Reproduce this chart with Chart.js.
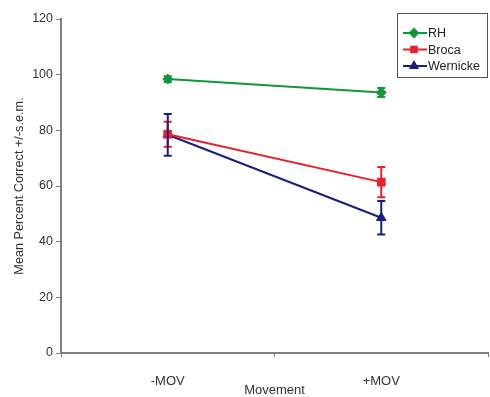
<!DOCTYPE html>
<html>
<head>
<meta charset="utf-8">
<script src="https://cdn.jsdelivr.net/npm/chart.js@4"></script>
<style>
  html, body { margin: 0; padding: 0; background: #fff; }
  #wrap { width: 490px; height: 397px; }
</style>
</head>
<body>
<div id="wrap"><canvas id="myChart" width="490" height="397"></canvas></div>
<script>
// values
const categories = ['-MOV', '+MOV'];
const seriesNames = ['RH', 'Broca', 'Wernicke'];
const rhValues = [98.4, 93.6];
const rhErrors = [1.0, 1.6];
const brocaValues = [78.6, 61.4];
const brocaErrors = [4.5, 5.4];
const wernickeValues = [78.4, 48.6];
const wernickeErrors = [7.5, 6.0];
const yTicks = [0, 20, 40, 60, 80, 100, 120];

const colors = ['#13963a', '#e5222b', '#1c1c82'];
const markers = ['rectRot', 'rect', 'triangle'];
const markerSizes = [5, 5.5, 5.5];
const errors = [rhErrors, brocaErrors, wernickeErrors];
const FONT = '"Liberation Sans", Arial, sans-serif';

const errorBars = {
  id: 'errorBars',
  afterDatasetsDraw(chart) {
    const ctx = chart.ctx;
    const y = chart.scales.y;
    chart.data.datasets.forEach((ds, i) => {
      const meta = chart.getDatasetMeta(i);
      ctx.save();
      ctx.strokeStyle = colors[i];
      ctx.lineWidth = 2;
      meta.data.forEach((pt, j) => {
        const e = errors[i][j];
        const top = y.getPixelForValue(ds.data[j] + e);
        const bot = y.getPixelForValue(ds.data[j] - e);
        ctx.beginPath();
        ctx.moveTo(pt.x, top); ctx.lineTo(pt.x, bot);
        ctx.moveTo(pt.x - 4, top); ctx.lineTo(pt.x + 4, top);
        ctx.moveTo(pt.x - 4, bot); ctx.lineTo(pt.x + 4, bot);
        ctx.stroke();
      });
      ctx.restore();
    });
  }
};

const boxLegend = {
  id: 'boxLegend',
  afterDraw(chart) {
    const ctx = chart.ctx;
    const right = chart.chartArea.right;
    const left = right - 91, top = 13, h = 64;
    ctx.save();
    ctx.fillStyle = '#fff';
    ctx.fillRect(left, top, 91, h);
    ctx.strokeStyle = '#555';
    ctx.lineWidth = 1;
    ctx.strokeRect(left + 0.5, top + 0.5, 90, h);
    ctx.font = '12.5px ' + FONT;
    ctx.textBaseline = 'middle';
    chart.data.datasets.forEach((ds, i) => {
      const yy = top + 20 + i * 16.5;
      ctx.strokeStyle = colors[i];
      ctx.lineWidth = 2;
      ctx.beginPath();
      ctx.moveTo(left + 6, yy); ctx.lineTo(left + 30, yy);
      ctx.stroke();
      ctx.fillStyle = colors[i];
      Chart.helpers.drawPoint(ctx, {pointStyle: markers[i], radius: 4, rotation: 0, borderWidth: 1}, left + 17, yy);
      ctx.fill();
      ctx.fillStyle = '#222';
      ctx.fillText(ds.label, left + 31, yy + 1);
    });
    ctx.restore();
  }
};

const ctx = document.getElementById('myChart').getContext('2d');
const seriesValues = [rhValues, brocaValues, wernickeValues];

new Chart(ctx, {
  type: 'line',
  data: {
    labels: categories,
    datasets: seriesNames.map((name, i) => ({
      label: name,
      data: seriesValues[i],
      borderColor: colors[i],
      backgroundColor: colors[i],
      borderWidth: 2,
      pointStyle: markers[i],
      pointRadius: markerSizes[i],
      pointBorderWidth: 1,
      tension: 0
    }))
  },
  options: {
    responsive: false,
    animation: false,
    layout: { autoPadding: false, padding: { top: 19, right: 2, left: 0, bottom: 0 } },
    plugins: { legend: { display: false }, tooltip: { enabled: false } },
    scales: {
      x: {
        offset: true,
        afterFit(scale) { scale.height = 44; scale.paddingRight = 0; scale.paddingLeft = 0; },
        grid: { display: true, drawOnChartArea: false, offset: true, tickLength: 4, color: '#808080' },
        border: { color: '#808080', width: 2 },
        ticks: { color: '#333', padding: 17, font: { family: FONT, size: 13 } },
        title: { display: true, text: 'Movement', color: '#333', padding: { top: -2, bottom: 0 }, font: { family: FONT, size: 13, lineHeight: 1 } }
      },
      y: {
        min: 0,
        max: 120,
        afterFit(scale) { scale.width = 61; },
        afterBuildTicks(scale) { scale.ticks = yTicks.map(v => ({ value: v })); },
        grid: { display: true, drawOnChartArea: false, tickLength: 5, color: '#808080' },
        border: { color: '#808080', width: 2 },
        ticks: { color: '#333', padding: 3, font: { family: FONT, size: 12.5 } },
        title: { display: true, text: 'Mean Percent Correct +/-s.e.m.', color: '#333', padding: { top: 12, bottom: 0 }, font: { family: FONT, size: 12.7 } }
      }
    }
  },
  plugins: [errorBars, boxLegend]
});
</script>
</body>
</html>
